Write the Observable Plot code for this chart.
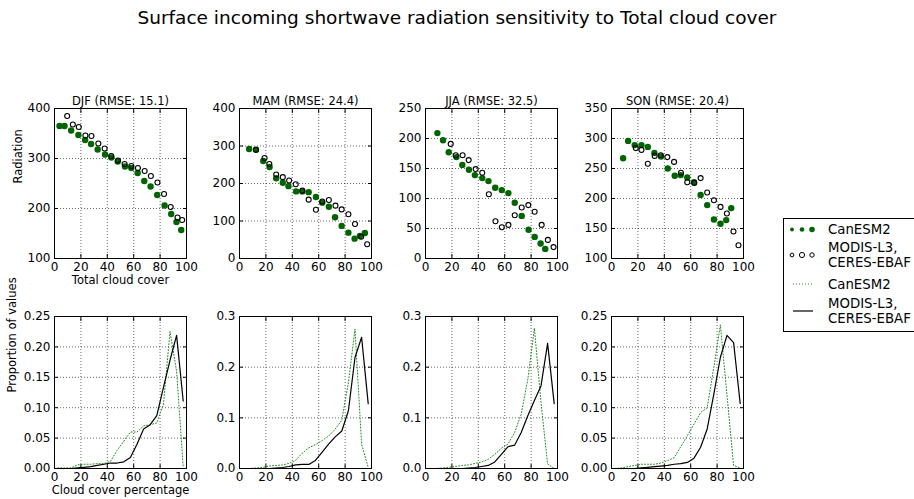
<!DOCTYPE html>
<html><head><meta charset="utf-8">
<script src="https://cdn.jsdelivr.net/npm/d3@7"></script>
<script src="https://cdn.jsdelivr.net/npm/@observablehq/plot@0.6"></script>
<style>
body{margin:0;background:#fff;}
#root{position:relative;width:914px;height:499px;overflow:hidden;font-family:"DejaVu Sans",sans-serif;background:#fff;}
.panel{position:absolute;}
#title{position:absolute;left:0;top:7px;width:914px;text-align:center;font-size:18.5px;line-height:22px;color:#000;}
</style></head><body><div id="root"><div id="title">Surface incoming shortwave radiation sensitivity to Total cloud cover</div></div>
<script>
// ---------- data ----------
const seasons = ["DJF", "MAM", "JJA", "SON"];
const rmse = [15.1, 24.4, 32.5, 20.4];
const xTicks = [0, 20, 40, 60, 80, 100];

// scatter: CanESM2 (filled) and MODIS-L3/CERES-EBAF (open)
const djfModelX = [3.8,7.6,12.6,18.1,23.2,27.7,32.7,38.3,43.1,47.9,53.4,58.2,63,68,72.8,77.8,83.4,88.4,92.4,96];
const djfModelY = [365,365,356,347,337,329,318,308,302,294,284,281,271,255,244,227,206,189,173,157];
const djfObsX = [9.6,13.9,18.4,23.4,28,33.2,38,43,48.1,53.1,58.2,63.2,68.3,73,78,83,88,93.2,96.7];
const djfObsY = [385,368,363,346,345,330,320,305,296,289,285,281,275,265,252,229,203,182,177];

const mamModelX = [7.3,12.5,18,22.8,27.8,32.8,37.1,42.9,47.6,52.4,57.9,62.7,67.7,72.4,77.4,82.5,87.2,91.2,95];
const mamModelY = [292,290,260,244,214,202,193,179,179,177,164,149,138,110,87,69,53,60,68];
const mamObsX = [12.5,19,22.6,27.8,32.8,37.6,42.6,47.6,52.4,57.9,62.7,67.7,72.7,77.4,82.5,87.5,92.2,96.7];
const mamObsY = [290,268,252,224,217,208,198,181,157,130,152,156,141,131,118,92,58,38];

const jjaModelX = [9,13.3,17.6,23.4,27.9,32.9,37.4,43,47.7,52.8,57.8,62.8,67.6,72.9,78.1,82.7,87.2,90.7];
const jjaModelY = [209,197,177,169,156,148,139,134,129,118,114,109,93,71,48,36,25,16];
const jjaObsX = [19.1,22.9,28.1,32.7,38,43,48,53,57.8,62.8,67.6,72.9,77.9,82.7,88,92.7,97];
const jjaObsY = [191,172,172,164,149,143,107,62,52,56,72,85,89,78,56,31,19];

const sonModelX = [8.8,12.6,17.6,22.7,27.5,32.5,37.5,42.6,47.9,52.4,57.4,62.5,67.5,72.5,77.6,82.6,86.9,90.7];
const sonModelY = [267,296,289,289,286,276,270,250,238,239,235,227,206,189,165,158,164,184];
const sonObsX = [18.4,22.7,27.5,32.7,37.3,42.3,47.4,52.6,57.4,62.7,67.5,72.5,77.6,82.6,87.4,92.4,96.2];
const sonObsY = [284,281,258,271,272,269,261,243,227,226,234,210,197,186,175,145,122];

const scatterYDomains = [[100,400],[0,400],[0,250],[100,350]];
const scatterYTicks = [[100,200,300,400],[0,100,200,300,400],[0,50,100,150,200,250],[100,150,200,250,300,350]];

// histograms of cloud cover
const binCenters = [2.5,7.5,12.5,17.5,22.5,27.5,32.5,37.5,42.5,47.5,52.5,57.5,62.5,67.5,72.5,77.5,82.5,87.5,92.5,97.5];
const djfModelHist = [0.001,0.001,0.001,0.006,0.007,0.007,0.008,0.008,0.012,0.03,0.045,0.06,0.06,0.07,0.072,0.075,0.105,0.225,0.16,0.003];
const djfObsHist   = [0,0,0,0.001,0.002,0.003,0.005,0.007,0.009,0.009,0.011,0.018,0.04,0.065,0.072,0.087,0.133,0.178,0.219,0.111];
const mamModelHist = [0,0,0.001,0.002,0.005,0.006,0.007,0.01,0.016,0.03,0.041,0.047,0.055,0.064,0.078,0.095,0.17,0.275,0.048,0.002];
const mamObsHist   = [0,0,0,0,0,0.001,0.002,0.004,0.007,0.008,0.008,0.016,0.032,0.048,0.0625,0.074,0.114,0.219,0.259,0.128];
const jjaModelHist = [0,0,0.001,0.002,0.004,0.006,0.007,0.01,0.013,0.018,0.028,0.04,0.048,0.071,0.107,0.176,0.277,0.13,0.009,0];
const jjaObsHist   = [0,0,0,0,0,0,0.001,0.002,0.004,0.006,0.013,0.028,0.043,0.046,0.071,0.104,0.134,0.163,0.247,0.128];
const sonModelHist = [0,0.001,0.003,0.005,0.007,0.007,0.007,0.009,0.013,0.018,0.036,0.054,0.073,0.092,0.1,0.166,0.236,0.12,0.005,0.001];
const sonObsHist   = [0,0,0,0,0.001,0.002,0.003,0.004,0.005,0.007,0.008,0.01,0.017,0.035,0.065,0.122,0.183,0.219,0.207,0.107];

const histYDomains = [[0,0.25],[0,0.3],[0,0.3],[0,0.25]];
const histYTicks = [[0,0.05,0.1,0.15,0.2,0.25],[0,0.1,0.2,0.3],[0,0.1,0.2,0.3],[0,0.05,0.1,0.15,0.2,0.25]];
const histYFormats = [".2f", ".1f", ".1f", ".2f"];

const legendLabels = ["CanESM2", ["MODIS-L3,", "CERES-EBAF"], "CanESM2", ["MODIS-L3,", "CERES-EBAF"]];

// ---------- layout ----------
const frameLefts = [54, 239, 425, 611];
const FW = 132;
const ML = 56, MR = 16, MT = 24, MB = 40;
const modelGreen = "#006400";
const lineGreen = "#1f8a1f";
const root = document.getElementById("root");

const zip = (xs, ys) => xs.map((x, i) => ({x, y: ys[i]}));
const modelPts = [zip(djfModelX, djfModelY), zip(mamModelX, mamModelY), zip(jjaModelX, jjaModelY), zip(sonModelX, sonModelY)];
const obsPts = [zip(djfObsX, djfObsY), zip(mamObsX, mamObsY), zip(jjaObsX, jjaObsY), zip(sonObsX, sonObsY)];
const modelH = [djfModelHist, mamModelHist, jjaModelHist, sonModelHist].map(h => zip(binCenters, h));
const obsH = [djfObsHist, mamObsHist, jjaObsHist, sonObsHist].map(h => zip(binCenters, h));

function frameMarks(yTicks, yFmt) {
  const fs = 12;
  return [
    Plot.gridX(xTicks, {stroke: "#000", strokeOpacity: 1, strokeWidth: 0.6, strokeDasharray: "1,2"}),
    Plot.gridY(yTicks, {stroke: "#000", strokeOpacity: 1, strokeWidth: 0.6, strokeDasharray: "1,2"}),
    Plot.axisX(xTicks, {tickSize: 0, tickPadding: 4, fontSize: fs, tickFormat: d3.format("d")}),
    Plot.axisY(yTicks, {tickSize: 0, tickPadding: 4, fontSize: fs, tickFormat: d3.format(yFmt)}),
    Plot.axisX(xTicks, {anchor: "bottom", tickSize: 4, dy: -4, tickFormat: () => "", label: null}),
    Plot.axisX(xTicks, {anchor: "top", tickSize: 4, dy: 4, tickFormat: () => "", label: null}),
    Plot.axisY(yTicks, {anchor: "left", tickSize: 4, dx: 4, tickFormat: () => "", label: null}),
    Plot.axisY(yTicks, {anchor: "right", tickSize: 4, dx: -4, tickFormat: () => "", label: null})
  ];
}

function addPanel(i, top, h, yDomain, yTicks, yFmt, dataMarks, extra) {
  const el = Plot.plot({
    width: ML + FW + MR, height: MT + h + MB,
    marginLeft: ML, marginRight: MR, marginTop: MT, marginBottom: MB,
    x: {domain: [0, 100], label: null},
    y: {domain: yDomain, label: null},
    style: {fontFamily: "DejaVu Sans", fontSize: "12px", background: "transparent", color: "black", overflow: "visible"},
    marks: [...frameMarks(yTicks, yFmt), ...dataMarks, Plot.frame({stroke: "black", strokeWidth: 1}), ...extra]
  });
  const div = document.createElement("div");
  div.className = "panel";
  div.style.left = (frameLefts[i] - ML) + "px";
  div.style.top = (top - MT) + "px";
  div.appendChild(el);
  root.appendChild(div);
}

seasons.forEach((s, i) => {
  const extra = [
    Plot.text([`${s} (RMSE: ${rmse[i]})`], {text: d => d, frameAnchor: "top", dy: -4, lineAnchor: "bottom", fontSize: 11.5})
  ];
  if (i === 0) {
    extra.push(Plot.text(["Radiation"], {text: d => d, frameAnchor: "left", rotate: -90, dx: -36, fontSize: 11.5}));
    extra.push(Plot.text(["Total cloud cover"], {text: d => d, frameAnchor: "bottom", dy: 25, fontSize: 11.5}));
  }
  addPanel(i, 108, 150, scatterYDomains[i], scatterYTicks[i], "d", [
    Plot.dot(modelPts[i], {x: "x", y: "y", r: 3.2, fill: modelGreen, stroke: "none"}),
    Plot.dot(obsPts[i], {x: "x", y: "y", r: 2.5, fill: "none", stroke: "black", strokeWidth: 1.1})
  ], extra);
});

seasons.forEach((s, i) => {
  const extra = [];
  if (i === 0) {
    extra.push(Plot.text(["Proportion of values"], {text: d => d, frameAnchor: "left", rotate: -90, dx: -42, fontSize: 11.5}));
    extra.push(Plot.text(["Cloud cover percentage"], {text: d => d, frameAnchor: "bottom", dy: 25, fontSize: 11.5}));
  }
  addPanel(i, 316, 152, histYDomains[i], histYTicks[i], histYFormats[i], [
    Plot.line(modelH[i], {x: "x", y: "y", stroke: lineGreen, strokeWidth: 1, strokeDasharray: "1,2"}),
    Plot.line(obsH[i], {x: "x", y: "y", stroke: "black", strokeWidth: 1.2})
  ], extra);
});

// ---------- legend ----------
const ns = "http://www.w3.org/2000/svg";
const lg = document.createElementNS(ns, "svg");
lg.setAttribute("width", 140); lg.setAttribute("height", 116);
lg.style.position = "absolute"; lg.style.left = "783px"; lg.style.top = "218px";
lg.style.fontFamily = "DejaVu Sans"; lg.style.fontSize = "13.3px";
function mk(tag, attrs, parent) { const e = document.createElementNS(ns, tag); for (const k in attrs) e.setAttribute(k, attrs[k]); (parent || lg).appendChild(e); return e; }
mk("rect", {x: 0.5, y: 0.5, width: 200, height: 113, fill: "white", stroke: "black", "stroke-width": 1});
// entry 1: filled dots
[[9, 1.9], [19, 2.3], [29, 2.8]].forEach(([x, r]) => mk("circle", {cx: x, cy: 11.5, r, fill: modelGreen}));
// entry 2: open dots
[[9, 1.9], [19, 2.6], [29, 2.2]].forEach(([x, r]) => mk("circle", {cx: x, cy: 37, r, fill: "none", stroke: "black", "stroke-width": 1}));
// entry 3: dotted line
mk("line", {x1: 10, x2: 30, y1: 66, y2: 66, stroke: lineGreen, "stroke-width": 1, "stroke-dasharray": "1,2"});
// entry 4: solid line
mk("line", {x1: 10, x2: 30, y1: 93, y2: 93, stroke: "black", "stroke-width": 1.2});
const rows = [[11.5, legendLabels[0]], [37, legendLabels[1]], [66, legendLabels[2]], [93, legendLabels[3]]];
rows.forEach(([cy, lab]) => {
  const lines = Array.isArray(lab) ? lab : [lab];
  lines.forEach((t, j) => {
    const y = cy + (j - (lines.length - 1) / 2) * 14.5;
    const tx = mk("text", {x: 45, y, "dominant-baseline": "central", fill: "black"});
    tx.textContent = t;
  });
});
root.appendChild(lg);
</script></body></html>
